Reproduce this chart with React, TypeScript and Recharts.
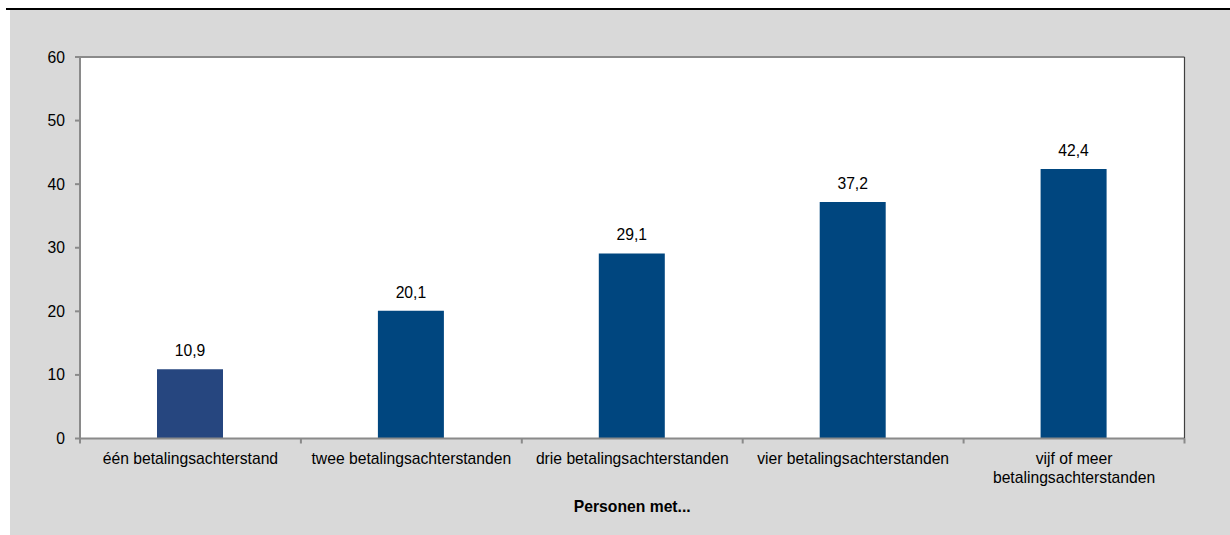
import React from 'react'
import { Bar, BarChart, CartesianGrid, Cell, LabelList, ReferenceLine, XAxis, YAxis } from 'recharts'

const categories = [
  'één betalingsachterstand',
  'twee betalingsachterstanden',
  'drie betalingsachterstanden',
  'vier betalingsachterstanden',
  'vijf of meer\nbetalingsachterstanden',
]
const values = [10.9, 20.1, 29.1, 37.2, 42.4]
const barColors = ['#26467f', '#00467f', '#00467f', '#00467f', '#00467f']
const yTicks = [0, 10, 20, 30, 40, 50, 60]

const data = categories.map((name, i) => ({ name, value: values[i] }))

const FONT = '"Liberation Sans", Arial, sans-serif'
const AXIS_GRAY = '#8a8a8a'

function CategoryTick(props: any) {
  const { x, y, payload, index } = props
  const half = payload?.offset ?? 110.5
  const lines = String(payload.value).split('\n')
  const last = index === categories.length - 1
  return (
    <g>
      <line x1={x - half} x2={x - half} y1={y} y2={y + 5} stroke={AXIS_GRAY} strokeWidth={2} />
      {last && <line x1={x + half} x2={x + half} y1={y} y2={y + 5} stroke={AXIS_GRAY} strokeWidth={2} />}
      <text x={x} y={y} textAnchor="middle" fontSize={15.7} fontFamily={FONT} fill="#000">
        {lines.map((l, i) => (
          <tspan key={i} x={x} dy={i === 0 ? 25 : 19.5}>
            {l}
          </tspan>
        ))}
      </text>
    </g>
  )
}

export default function App() {
  return (
    <div style={{ position: 'absolute', left: 0, top: 0, width: 1230, height: 535, fontFamily: FONT }}>
      <div style={{ position: 'absolute', left: 6, top: 7.5, width: 1224, height: 2, background: '#000' }} />
      <div style={{ position: 'absolute', left: 10, top: 9.5, width: 1220, height: 525.5, background: '#d9d9d9' }} />
      <div style={{ position: 'absolute', left: 0, top: 0 }}>
        <BarChart
          width={1230}
          height={535}
          data={data}
          margin={{ top: 57, right: 44.5, left: 20, bottom: 36.5 }}
        >
          <CartesianGrid fill="#ffffff" horizontal={false} vertical={false} />
          <XAxis
            dataKey="name"
            interval={0}
            height={60}
            axisLine={{ stroke: AXIS_GRAY, strokeWidth: 2 }}
            tickLine={false}
            tickSize={0}
            tickMargin={0}
            tick={<CategoryTick />}
            label={{
              value: 'Personen met...',
              position: 'insideBottom',
              offset: -13,
              style: { fontSize: 15.7, fontWeight: 'bold', fontFamily: FONT, fill: '#000' },
            }}
          />
          <YAxis
            domain={[0, 60]}
            ticks={yTicks}
            width={60}
            interval={0}
            axisLine={{ stroke: AXIS_GRAY, strokeWidth: 2 }}
            tickLine={{ stroke: AXIS_GRAY, strokeWidth: 2 }}
            tickSize={5}
            tickMargin={10}
            tick={{ fill: '#000', fontSize: 15.7, fontFamily: FONT }}
          />
          <YAxis
            yAxisId="right"
            orientation="right"
            width={1}
            tick={false}
            tickLine={false}
            axisLine={{ stroke: '#404040', strokeWidth: 1.2 }}
          />
          <ReferenceLine y={60} stroke={AXIS_GRAY} strokeWidth={2} />
          <Bar dataKey="value" barSize={66} isAnimationActive={false}>
            {data.map((d, i) => (
              <Cell key={d.name} fill={barColors[i]} />
            ))}
            <LabelList
              dataKey="value"
              position="top"
              offset={13}
              formatter={(v: any) => Number(v).toFixed(1).replace('.', ',')}
              style={{ fill: '#000', fontSize: 15.7, fontFamily: FONT }}
            />
          </Bar>
        </BarChart>
      </div>
    </div>
  )
}
